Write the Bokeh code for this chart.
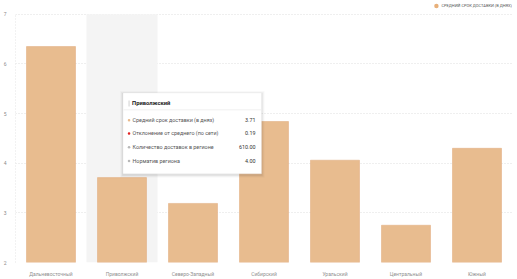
from bokeh.plotting import figure
from bokeh.models import (ColumnDataSource, FactorRange, Range1d, Legend, LegendItem,
                          BoxAnnotation, Label)
from bokeh.embed import file_html
from bokeh.resources import INLINE

regions = ["Дальневосточный", "Приволжский", "Северо-Западный", "Сибирский",
           "Уральский", "Центральный", "Южный"]
avg_days = [6.35, 3.71, 3.19, 4.84, 4.06, 2.75, 4.30]
y_ticks = [2, 3, 4, 5, 6, 7]

series_name = "СРЕДНИЙ СРОК ДОСТАВКИ (В ДНЯХ)"
hovered = "Приволжский"
tip_rows = ["Средний срок доставки (в днях)", "Отклонение от среднего (по сети)",
            "Количество доставок в регионе", "Норматив региона"]
tip_values = ["3.71", "0.19", "610.00", "4.00"]
tip_dots = ["#e8b98a", "#e02020", "#b8b8b8", "#b8b8b8"]

BAR = "#e8bc8f"
FONT = "Roboto"

W, H = 517, 279
LEFT, RIGHT, TOP, BOTTOM = 13, 5, 0, 13
FW, FH = W - LEFT - RIGHT, H - TOP - BOTTOM
YMIN, YMAX = 2, 7
PLOT_TOP_PX = 14          # pixel row of the value 7
uy = (H - BOTTOM - PLOT_TOP_PX) / (YMAX - YMIN)
YEND = YMAX + PLOT_TOP_PX / uy

p = figure(width=W, height=H, x_range=FactorRange(*regions, range_padding=0),
           y_range=Range1d(YMIN, YEND), output_backend="svg", toolbar_location=None,
           min_border_left=LEFT, min_border_right=RIGHT, min_border_top=TOP,
           min_border_bottom=BOTTOM)
p.outline_line_color = None
p.background_fill_color = "white"
p.border_fill_color = "white"

# hover band
p.vbar(x=[hovered], top=[YMAX], bottom=[YMIN], width=1.0, fill_color="#f4f4f4",
       line_color=None)

src = ColumnDataSource(dict(x=regions, top=avg_days))
bars = p.vbar(x="x", top="top", bottom=YMIN, width=0.69, source=src,
              fill_color=BAR, line_color="#e2b084", line_width=0.6)
# round legend marker (size 0 on the chart itself)
dots = p.scatter(x="x", y="top", source=src, size=0, marker="circle",
                 fill_color="#e8b07a", line_color=None)

# axes
p.xaxis.axis_line_color = None
p.xaxis.major_tick_line_color = None
p.xaxis.minor_tick_line_color = None
p.xaxis.major_label_text_font = FONT
p.xaxis.major_label_text_font_size = "5px"
p.xaxis.major_label_text_color = "#909090"
p.xaxis.major_label_standoff = 2

p.yaxis.ticker = y_ticks
p.yaxis.bounds = (YMIN, YMAX)
p.yaxis.axis_line_color = "#e4e4e4"
p.yaxis.axis_line_dash = "1 2"
p.yaxis.major_tick_line_color = None
p.yaxis.minor_tick_line_color = None
p.yaxis.major_label_text_font = FONT
p.yaxis.major_label_text_font_size = "5px"
p.yaxis.major_label_text_color = "#8a8a8a"
p.yaxis.major_label_standoff = 3

p.xgrid.grid_line_color = None
p.ygrid.grid_line_color = "#dedede"
p.ygrid.grid_line_dash = "1 2"
p.ygrid.grid_line_width = 1

# legend at top right
legend = Legend(items=[LegendItem(label=series_name, renderers=[dots])],
                location="top_right", orientation="horizontal",
                label_text_font=FONT, label_text_font_size="4px",
                label_text_color="#555555", glyph_width=11, glyph_height=11,
                label_standoff=0, padding=0, margin=0, spacing=0,
                background_fill_alpha=0, border_line_color=None,
                label_height=6, label_width=10)
p.add_layout(legend)

# tooltip (pixel geometry converted into chart coordinates)
ux = FW / len(regions)
def sx(px):
    return (px - LEFT) / ux
def sy(py):
    return YMAX - (py - PLOT_TOP_PX) / uy

for off, a in [(3, 0.025), (2, 0.04), (1, 0.06)]:
    p.add_layout(BoxAnnotation(left=sx(121 - off), right=sx(260 + off),
                               top=sy(94 - off + 1), bottom=sy(176 + off + 1),
                               fill_color="black", fill_alpha=a, line_color=None,
                               level="overlay"))
p.add_layout(BoxAnnotation(left=sx(121), right=sx(260), top=sy(94), bottom=sy(176),
                           fill_color="white", fill_alpha=1, line_color="#e6e6e6",
                           line_width=0.8, level="overlay"))
p.add_layout(BoxAnnotation(left=sx(121.5), right=sx(259.5), top=sy(110.6),
                           bottom=sy(111.4), fill_color="#ececec", fill_alpha=1,
                           line_color=None, level="overlay"))
p.add_layout(BoxAnnotation(left=sx(126.6), right=sx(127.4), top=sy(101.5),
                           bottom=sy(107.5), fill_color="#c4c4c4", fill_alpha=1,
                           line_color=None, level="overlay"))
p.add_layout(Label(x=sx(130), y=sy(104.5), text=hovered, text_font=FONT,
                   text_font_size="5.8px", text_font_style="bold",
                   text_color="#222222", text_baseline="middle", level="overlay"))

row_y = [121.5, 135, 149, 163]
for name, val, col, ry in zip(tip_rows, tip_values, tip_dots, row_y):
    p.add_layout(BoxAnnotation(left=sx(125.7), right=sx(128.3), top=sy(ry - 1.3),
                               bottom=sy(ry + 1.3), fill_color=col, fill_alpha=1,
                               line_color=None, border_radius=2, level="overlay"))
    p.add_layout(Label(x=sx(130.5), y=sy(ry), text=name, text_font=FONT,
                       text_font_size="5.4px", text_color="#555555",
                       text_baseline="middle", level="overlay"))
    p.add_layout(Label(x=sx(254), y=sy(ry), text=val, text_font=FONT,
                       text_font_size="5.4px", text_color="#333333",
                       text_baseline="middle", text_align="right", level="overlay"))

open("out.html", "w").write(file_html(p, INLINE))
